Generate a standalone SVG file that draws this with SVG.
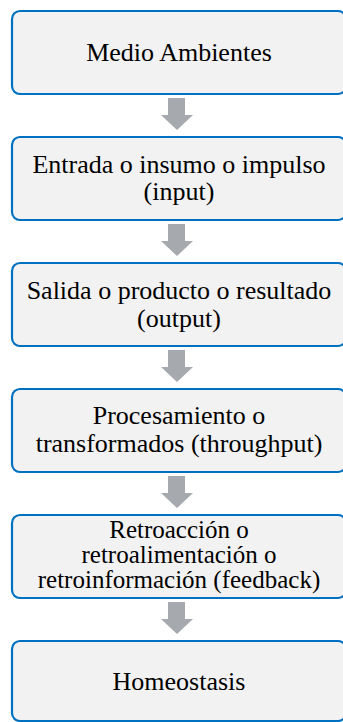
<svg xmlns="http://www.w3.org/2000/svg" width="343" height="722" viewBox="0 0 343 722">
<style>
.box{fill:#F2F2F2;stroke:#0070C0;stroke-width:2.2}
text{font-family:"Liberation Serif","Times New Roman",serif;font-size:26px;fill:#000;text-anchor:middle}
.s{font-size:25px}
.arr{fill:#A6A9AE}
</style>
<rect width="343" height="722" fill="#FFFFFF"/>
<g id="connectors">
<polygon class="arr" points="168,98 185,98 185,115 193,115 177,130 161,115 168,115"/>
<polygon class="arr" points="168,224 185,224 185,241 193,241 177,256 161,241 168,241"/>
<polygon class="arr" points="168,350 185,350 185,367 193,367 177,382 161,367 168,367"/>
<polygon class="arr" points="168,476 185,476 185,493 193,493 177,508 161,493 168,493"/>
<polygon class="arr" points="168,602 185,602 185,619 193,619 177,634 161,619 168,619"/>
</g>
<g id="n1">
<rect class="box" x="12" y="11" width="334" height="83" rx="8"/>
<text x="179" y="61">Medio Ambientes</text>
</g>
<g id="n2">
<rect class="box" x="12" y="137" width="334" height="83" rx="8"/>
<text x="179" y="173">Entrada o insumo o impulso</text>
<text x="179" y="200">(input)</text>
</g>
<g id="n3">
<rect class="box" x="12" y="263" width="334" height="83" rx="8"/>
<text x="179" y="299">Salida o producto o resultado</text>
<text x="179" y="327">(output)</text>
</g>
<g id="n4">
<rect class="box" x="12" y="389" width="334" height="83" rx="8"/>
<text x="179" y="424">Procesamiento o</text>
<text x="179" y="452">transformados (throughput)</text>
</g>
<g id="n5">
<rect class="box" x="12" y="515" width="334" height="83" rx="8"/>
<text class="s" x="179" y="538">Retroacción o</text>
<text class="s" x="179" y="563">retroalimentación o</text>
<text class="s" x="179" y="588">retroinformación (feedback)</text>
</g>
<g id="n6">
<rect class="box" x="12" y="641" width="334" height="80" rx="8"/>
<text x="179" y="690">Homeostasis</text>
</g>
</svg>
